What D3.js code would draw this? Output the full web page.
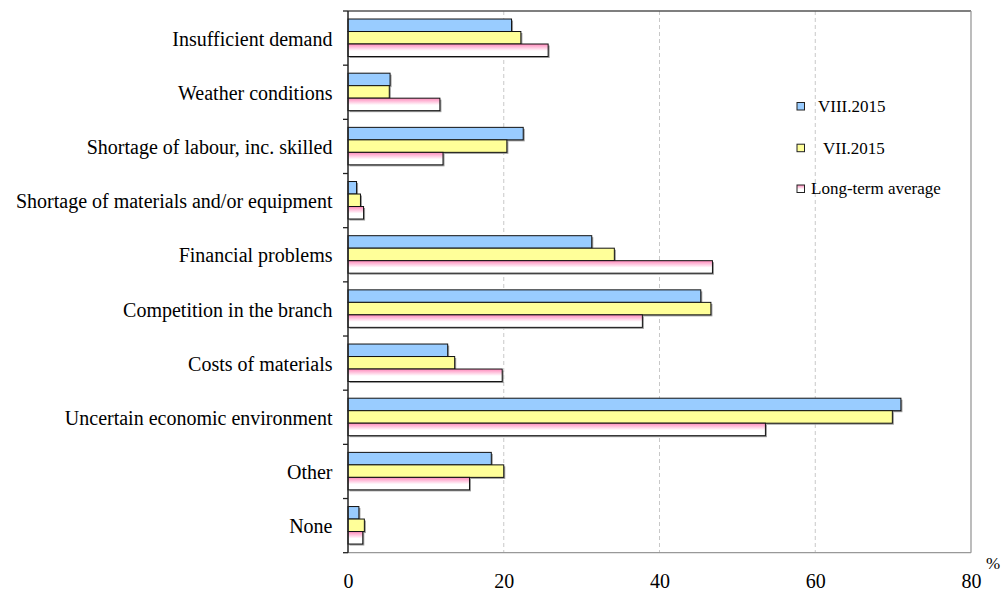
<!DOCTYPE html>
<html><head><meta charset="utf-8">
<script src="https://cdn.jsdelivr.net/npm/d3@7"></script>
<style>body{margin:0;background:#fff}svg{display:block}svg text{font-family:"Liberation Serif","Times New Roman",serif}</style>
</head><body>
<script>
const categories = ["Insufficient demand","Weather conditions","Shortage of labour, inc. skilled","Shortage of materials and/or equipment","Financial problems","Competition in the branch","Costs of materials","Uncertain economic environment","Other","None"];
const seriesNames = ["VIII.2015","VII.2015","Long-term average"];
const aug2015 = [21.0, 5.4, 22.5, 1.1, 31.3, 45.3, 12.8, 71.0, 18.4, 1.4];
const jul2015 = [22.2, 5.3, 20.4, 1.6, 34.2, 46.6, 13.7, 69.9, 20.0, 2.1];
const longTerm = [25.7, 11.8, 12.2, 2.0, 46.8, 37.8, 19.8, 53.6, 15.6, 1.9];
const xTicks = [0, 20, 40, 60, 80];

const W = 1003, H = 592;
const m = {left: 348, right: 971, top: 11, bottom: 552.7};
const FONT = "Liberation Serif, Times New Roman, serif";
const svg = d3.select("body").append("svg").attr("width", W).attr("height", H)
  .attr("font-family", FONT);

const defs = svg.append("defs");
const g = defs.append("linearGradient").attr("id","pinkGrad").attr("x1",0).attr("y1",0).attr("x2",0).attr("y2",1);
g.append("stop").attr("offset","0%").attr("stop-color","#ff88bb");
g.append("stop").attr("offset","55%").attr("stop-color","#ffffff");
g.append("stop").attr("offset","100%").attr("stop-color","#ffffff");

const x = d3.scaleLinear().domain([0, 80]).range([m.left, m.right]);
const y = d3.scaleBand().domain(categories).range([m.top, m.bottom]).padding(0);
const bw = y.bandwidth();
const ys = d3.scaleBand().domain(seriesNames).range([bw*0.148, bw*0.84]).padding(0);
const fills = ["#99ccff", "#ffff99", "url(#pinkGrad)"];
const series = [aug2015, jul2015, longTerm];

// gridlines
svg.append("g").selectAll("line").data(xTicks.filter(v => v > 0 && v < 80)).join("line")
  .attr("x1", d => x(d)).attr("x2", d => x(d)).attr("y1", m.top).attr("y2", m.bottom)
  .attr("stroke", "#c8c8c8").attr("stroke-dasharray", "4,3").attr("stroke-width", 1);

// frame (top, right, bottom)
svg.append("line").attr("x1", m.left).attr("x2", m.right).attr("y1", m.top).attr("y2", m.top).attr("stroke", "#555").attr("stroke-width", 1.3);
svg.append("line").attr("x1", m.right).attr("x2", m.right).attr("y1", m.top).attr("y2", m.bottom).attr("stroke", "#999").attr("stroke-width", 1.3);
svg.append("line").attr("x1", m.left).attr("x2", m.right).attr("y1", m.bottom).attr("y2", m.bottom).attr("stroke", "#999").attr("stroke-width", 1.3);

// bars
series.forEach((vals, si) => {
  const gg = svg.append("g");
  gg.selectAll("rect.sh").data(vals).join("rect").attr("class","sh")
    .attr("x", x(0) + 1.5).attr("y", (d, i) => y(categories[i]) + ys(seriesNames[si]) + 1.5)
    .attr("width", d => x(d) - x(0)).attr("height", ys.bandwidth())
    .attr("fill", "#9a9a9a");
  gg.selectAll("rect.b").data(vals).join("rect").attr("class","b")
    .attr("x", x(0)).attr("y", (d, i) => y(categories[i]) + ys(seriesNames[si]))
    .attr("width", d => x(d) - x(0)).attr("height", ys.bandwidth())
    .attr("fill", fills[si]).attr("stroke", "#111").attr("stroke-width", 1);
});

// left axis line and boundary ticks
svg.append("line").attr("x1", m.left).attr("x2", m.left).attr("y1", m.top).attr("y2", m.bottom).attr("stroke", "#222").attr("stroke-width", 1.5);
const bounds = categories.map(c => y(c)).concat([m.bottom]);
svg.append("g").selectAll("line").data(bounds).join("line")
  .attr("x1", m.left - 5).attr("x2", m.left).attr("y1", d => d).attr("y2", d => d)
  .attr("stroke", "#222").attr("stroke-width", 1.3);

// category labels
const yAxis = svg.append("g").attr("transform", `translate(${m.left},0)`)
  .call(d3.axisLeft(y).tickSize(0).tickPadding(15.5));
yAxis.attr("font-family", FONT).attr("font-size", 20);
yAxis.select(".domain").remove();
yAxis.selectAll("text").attr("fill", "#000").attr("dy", "0.38em");

// x axis labels
const xAxis = svg.append("g").attr("transform", `translate(0,${m.bottom})`)
  .call(d3.axisBottom(x).tickValues(xTicks).tickSize(0).tickPadding(21).tickFormat(d3.format("d")));
xAxis.attr("font-family", FONT).attr("font-size", 20);
xAxis.select(".domain").remove();
xAxis.selectAll("text").attr("fill", "#000");

svg.append("text").attr("x", 993).attr("y", 569).attr("text-anchor", "middle")
  .attr("font-size", 17).attr("font-family", FONT).text("%");

// legend
const legendX = [818, 823, 811];
const legY = [106, 147.7, 188.5];
const lg = svg.append("g").attr("font-family", FONT).attr("font-size", 17);
seriesNames.forEach((s, i) => {
  lg.append("rect").attr("x", 797).attr("y", legY[i] - 3.5).attr("width", 7.5).attr("height", 7.5)
    .attr("fill", fills[i]).attr("stroke", "#222").attr("stroke-width", 1);
  lg.append("text").attr("x", legendX[i]).attr("y", legY[i] + 5.8)
    .attr("fill", "#000").text(s);
});
</script>
</body></html>
